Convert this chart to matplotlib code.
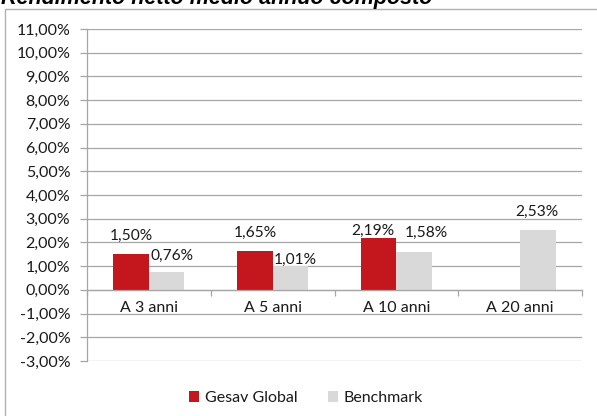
import matplotlib
matplotlib.use("Agg")
import matplotlib.pyplot as plt
from matplotlib.patches import Rectangle, Patch
import numpy as np

categories = ["A 3 anni", "A 5 anni", "A 10 anni", "A 20 anni"]
gesav = [1.50, 1.65, 2.19, None]
benchmark = [0.76, 1.01, 1.58, 2.53]
series_names = ["Gesav Global", "Benchmark"]
yticks = list(range(-3, 12))
title = "Rendimento netto medio annuo composto"

# label offsets in pixels (dx, dy of label centre from bar top centre)
gesav_off = [(0, 18), (0, 17.5), (-5.5, 7.5), None]
bench_off = [(5, 16), (5, 6.5), (12, 19), (-1, 18)]

RED = "#C3171D"
GRAY = "#D9D9D9"
GRID = "#A6A6A6"
FONT = "Lato"
TXT = "#1a1a1a"

W, H = 597, 416
fig = plt.figure(figsize=(W / 100, H / 100), dpi=100)
fig.patch.set_facecolor("white")

# outer frame
fig.patches.append(Rectangle((4.5 / W, -0.1), 1.2, 1 - 9 / H + 0.1,
                             transform=fig.transFigure, fill=False,
                             edgecolor="#B0B0B0", linewidth=1.0))

fig.text(1 / W, 1 - 4 / H, title, fontsize=15.5, fontweight="bold",
         fontstyle="italic", family="Liberation Sans", va="baseline",
         ha="left", color="black")

left, right, top, bottom = 87, 582, 29, 361
ax = fig.add_axes([left / W, 1 - bottom / H, (right - left) / W, (bottom - top) / H])
ax.set_facecolor("none")

n = len(categories)
x = np.arange(n) + 0.5
w = 0.287
gx = [x[i] - w / 2 for i, v in enumerate(gesav) if v is not None]
gv = [v for v in gesav if v is not None]
ax.bar(gx, gv, width=w, color=RED, zorder=3)
ax.bar(x + w / 2, benchmark, width=w, color=GRAY, zorder=3)

ax.set_xlim(0, n)
ax.set_ylim(-3, 11)
ax.set_yticks(yticks)
ax.set_yticklabels([f"{v},00%" for v in yticks])
ax.yaxis.grid(True, color=GRID, linewidth=0.9, zorder=0)
ax.set_axisbelow(True)

for s in ["top", "right"]:
    ax.spines[s].set_visible(False)
ax.spines["left"].set_color(GRID)
ax.spines["left"].set_linewidth(0.9)
ax.spines["bottom"].set_position(("data", 0))
ax.spines["bottom"].set_color(GRID)
ax.spines["bottom"].set_linewidth(0.9)
ax.spines["bottom"].set_zorder(4)

ax.set_xticks(x)
ax.set_xticklabels(categories)
ax.set_xticks(np.arange(n + 1), minor=True)
ax.tick_params(axis="x", which="major", length=0, pad=8, labelsize=11.5,
               labelcolor=TXT)
ax.tick_params(axis="x", which="minor", length=4.3, direction="out",
               color=GRID, width=0.9)
ax.tick_params(axis="y", length=5, color=GRID, width=0.9, pad=7,
               labelsize=11.5, labelcolor=TXT)
for lab in ax.get_xticklabels() + ax.get_yticklabels():
    lab.set_family(FONT)

def fmt(v):
    return f"{v:.2f}%".replace(".", ",")

for i, v in enumerate(gesav):
    if v is None:
        continue
    dx, dy = gesav_off[i]
    ax.annotate(fmt(v), (x[i] - w / 2, v), xytext=(dx * 0.72, dy * 0.72),
                textcoords="offset points", ha="center", va="center",
                fontsize=11.2, family=FONT, color=TXT, zorder=5)
for i, v in enumerate(benchmark):
    dx, dy = bench_off[i]
    ax.annotate(fmt(v), (x[i] + w / 2, v), xytext=(dx * 0.72, dy * 0.72),
                textcoords="offset points", ha="center", va="center",
                fontsize=11.2, family=FONT, color=TXT, zorder=5)

handles = [Patch(facecolor=RED), Patch(facecolor=GRAY)]
leg = fig.legend(handles, series_names, loc="center", ncol=2,
                 bbox_to_anchor=(306 / W, 1 - 398 / H), frameon=False,
                 prop={"family": FONT, "size": 11.5}, handlelength=0.62,
                 handleheight=0.62, handletextpad=0.35, columnspacing=1.9)
for t in leg.get_texts():
    t.set_color(TXT)

fig.savefig("out.png", dpi=100, facecolor="white")
